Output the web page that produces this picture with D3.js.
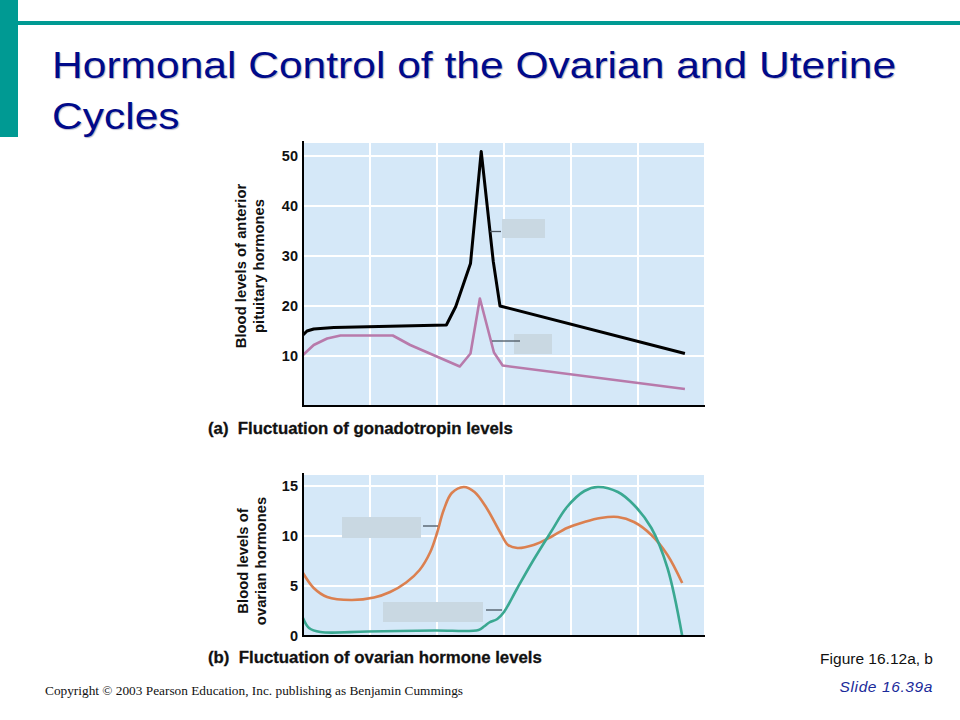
<!DOCTYPE html>
<html>
<head>
<meta charset="utf-8">
<script src="https://cdn.jsdelivr.net/npm/d3@7"></script>
<style>
  body { margin: 0; background: #fff; }
  svg { display: block; }
</style>
</head>
<body>
<svg id="slide" width="960" height="720"></svg>
<script>
// cycle days along the x axis (gridline every 5)
const xTicks = [0, 5, 10, 15, 20, 25, 30];

// (a) gonadotropins
const lhDays = [0, 0.3, 0.8, 2.3, 10.7, 11.4, 12.5, 13.3, 14.2, 14.7, 28.5];
const lhValues = [14.2, 15.0, 15.4, 15.7, 16.2, 19.9, 28.5, 50.9, 28.9, 20.0, 10.5];
const fshDays = [0, 0.8, 1.8, 2.8, 6.7, 8.0, 11.7, 12.5, 13.2, 14.25, 14.9, 28.5];
const fshValues = [10.2, 12.2, 13.5, 14.1, 14.1, 12.2, 7.9, 10.5, 21.5, 10.7, 8.1, 3.4];
const topTicks = [10, 20, 30, 40, 50];

// (b) ovarian hormones
const estDays = [0, 0.8, 1.8, 3.6, 5.3, 6.5, 7.7, 8.7, 9.5, 10.0, 10.5, 11.1, 12.0, 12.8, 13.7, 14.7, 15.3, 16.0, 17.2, 18.5, 19.7, 21.0, 22.2, 23.5, 24.7, 26.0, 27.2, 28.3];
const estValues = [6.3, 4.8, 3.9, 3.6, 3.85, 4.4, 5.35, 6.6, 8.4, 10.3, 12.6, 14.3, 14.9, 14.4, 12.8, 10.4, 9.1, 8.8, 9.1, 9.9, 10.8, 11.4, 11.8, 11.9, 11.4, 10.1, 8.1, 5.3];
const progDays = [0, 0.45, 1.3, 4.8, 9.8, 13.1, 13.5, 13.9, 14.5, 15.0, 16.0, 17.2, 18.5, 19.7, 21.0, 22.0, 23.5, 24.7, 26.0, 27.2, 28.3];
const progValues = [1.8, 0.8, 0.4, 0.45, 0.55, 0.6, 0.95, 1.35, 1.7, 2.4, 4.8, 7.6, 10.4, 12.9, 14.5, 14.9, 14.4, 13.1, 10.8, 6.8, 0];
const bottomTicks = [0, 5, 10, 15];

const svg = d3.select("#slide");
const sans = "Arial, 'Liberation Sans', sans-serif";

// slide frame
svg.append("rect").attr("x", 0).attr("y", 0).attr("width", 18).attr("height", 137).attr("fill", "#009a93");
svg.append("rect").attr("x", 18).attr("y", 21).attr("width", 942).attr("height", 4).attr("fill", "#009a93");

// title is a touch wider than Liberation Sans, so stretch it sideways
const title = svg.append("text")
  .attr("transform", "translate(52,0) scale(1.166,1)")
  .attr("font-family", sans)
  .attr("font-size", 36.5)
  .attr("fill", "#000a8a")
  .style("text-shadow", "1px 1px 1px #b8b8c8");
title.append("tspan").attr("x", 0).attr("y", 78).text("Hormonal Control of the Ovarian and Uterine");
title.append("tspan").attr("x", 0).attr("y", 129).text("Cycles");

function panel(opts) {
  const g = svg.append("g");
  const x = d3.scaleLinear().domain([0, 30]).range([303, 705]);
  const y = d3.scaleLinear().domain(opts.yDomain).range(opts.yRange);

  g.append("rect")
    .attr("x", x(0)).attr("y", opts.top)
    .attr("width", x(30) - x(0)).attr("height", y(opts.yDomain[0]) - opts.top)
    .attr("fill", "#d5e8f8");

  g.selectAll("line.vg").data(xTicks.slice(1)).enter().append("line")
    .attr("x1", d => x(d)).attr("x2", d => x(d))
    .attr("y1", opts.top).attr("y2", y(opts.yDomain[0]))
    .attr("stroke", "#fff").attr("stroke-width", 2);

  g.selectAll("line.hg").data(opts.grid).enter().append("line")
    .attr("x1", x(0)).attr("x2", x(30))
    .attr("y1", d => y(d)).attr("y2", d => y(d))
    .attr("stroke", "#fff").attr("stroke-width", 2);

  const line = d3.line().x(d => x(d[0])).y(d => y(d[1])).curve(opts.curve);
  opts.series.forEach(s => {
    g.append("path")
      .datum(d3.zip(s.days, s.values))
      .attr("d", line)
      .attr("fill", "none")
      .attr("stroke", s.color)
      .attr("stroke-width", s.width)
      .attr("stroke-linejoin", "round");
  });

  // hidden labels (grey boxes with leader lines)
  opts.boxes.forEach(b => {
    g.append("rect").attr("x", b.x).attr("y", b.y).attr("width", b.w).attr("height", b.h).attr("fill", "#c9d8e2");
    g.append("line").attr("x1", b.lx1).attr("x2", b.lx2).attr("y1", b.ly).attr("y2", b.ly)
      .attr("stroke", "#4a5560").attr("stroke-width", 1.3);
  });

  // axes
  const yAxis = d3.axisLeft(y).tickValues(opts.ticks).tickSize(0).tickPadding(5);
  const ya = g.append("g").attr("transform", `translate(${x(0)},0)`).call(yAxis);
  ya.select(".domain").remove();
  ya.selectAll("text")
    .attr("font-family", sans)
    .attr("font-weight", "bold").attr("font-size", 14.5).attr("fill", "#111");

  g.append("line").attr("x1", x(0)).attr("x2", x(0)).attr("y1", opts.top - 2).attr("y2", y(opts.yDomain[0]) + 1)
    .attr("stroke", "#000").attr("stroke-width", 2);
  g.append("line").attr("x1", x(0) - 1).attr("x2", x(30)).attr("y1", y(opts.yDomain[0])).attr("y2", y(opts.yDomain[0]))
    .attr("stroke", "#000").attr("stroke-width", 2);

  const yl = g.append("text")
    .attr("transform", `translate(${opts.labelX},${opts.labelY}) rotate(-90)`)
    .attr("text-anchor", "middle")
    .attr("font-family", sans)
    .attr("font-weight", "bold").attr("font-size", 14.8).attr("fill", "#111");
  yl.append("tspan").attr("x", 0).attr("dy", 0).text(opts.label[0]);
  yl.append("tspan").attr("x", 0).attr("dy", 18).text(opts.label[1]);

  g.append("text")
    .attr("x", 208).attr("y", opts.captionY)
    .attr("font-family", sans)
    .attr("font-weight", "bold").attr("font-size", 16.8).attr("fill", "#111")
    .attr("stroke", "#111").attr("stroke-width", 0.3)
    .attr("xml:space", "preserve")
    .text(opts.caption);
}

panel({
  top: 143,
  yDomain: [0, 50], yRange: [406, 156],
  grid: topTicks, ticks: topTicks,
  curve: d3.curveLinear,
  series: [
    { days: fshDays, values: fshValues, color: "#b87aab", width: 2.6 },
    { days: lhDays, values: lhValues, color: "#000", width: 3 }
  ],
  boxes: [
    { x: 502, y: 219, w: 43, h: 19, lx1: 490, lx2: 501, ly: 231.5 },
    { x: 514, y: 334, w: 38, h: 20, lx1: 492, lx2: 520, ly: 341 }
  ],
  label: ["Blood levels of anterior", "pituitary hormones"],
  labelX: 246, labelY: 266,
  caption: "(a)  Fluctuation of gonadotropin levels",
  captionY: 434
});

panel({
  top: 475,
  yDomain: [0, 15], yRange: [636, 486],
  grid: bottomTicks.slice(1), ticks: bottomTicks,
  curve: d3.curveCatmullRom.alpha(0.5),
  series: [
    { days: estDays, values: estValues, color: "#db8050", width: 2.6 },
    { days: progDays, values: progValues, color: "#3aa891", width: 2.6 }
  ],
  boxes: [
    { x: 342, y: 517, w: 79, h: 21, lx1: 423, lx2: 438, ly: 526 },
    { x: 383, y: 602, w: 100, h: 20, lx1: 486, lx2: 502, ly: 610 }
  ],
  label: ["Blood levels of", "ovarian hormones"],
  labelX: 248, labelY: 561,
  caption: "(b)  Fluctuation of ovarian hormone levels",
  captionY: 663
});

// footer
svg.append("text").attr("x", 933).attr("y", 664).attr("text-anchor", "end")
  .attr("font-family", "'Liberation Sans Narrow', Arial, sans-serif")
  .attr("font-size", 15.5).attr("fill", "#111")
  .text("Figure 16.12a, b");
svg.append("text").attr("x", 933).attr("y", 692).attr("text-anchor", "end")
  .attr("font-family", sans)
  .attr("font-style", "italic").attr("font-size", 15.5).attr("fill", "#1a2a9a")
  .attr("letter-spacing", 0.6)
  .text("Slide 16.39a");
svg.append("text").attr("x", 45).attr("y", 695)
  .attr("font-family", "'Liberation Serif', 'Times New Roman', serif")
  .attr("font-size", 12).attr("fill", "#111")
  .attr("textLength", 418).attr("lengthAdjust", "spacingAndGlyphs")
  .text("Copyright \u00a9 2003 Pearson Education, Inc. publishing as Benjamin Cummings");
</script>
</body>
</html>
